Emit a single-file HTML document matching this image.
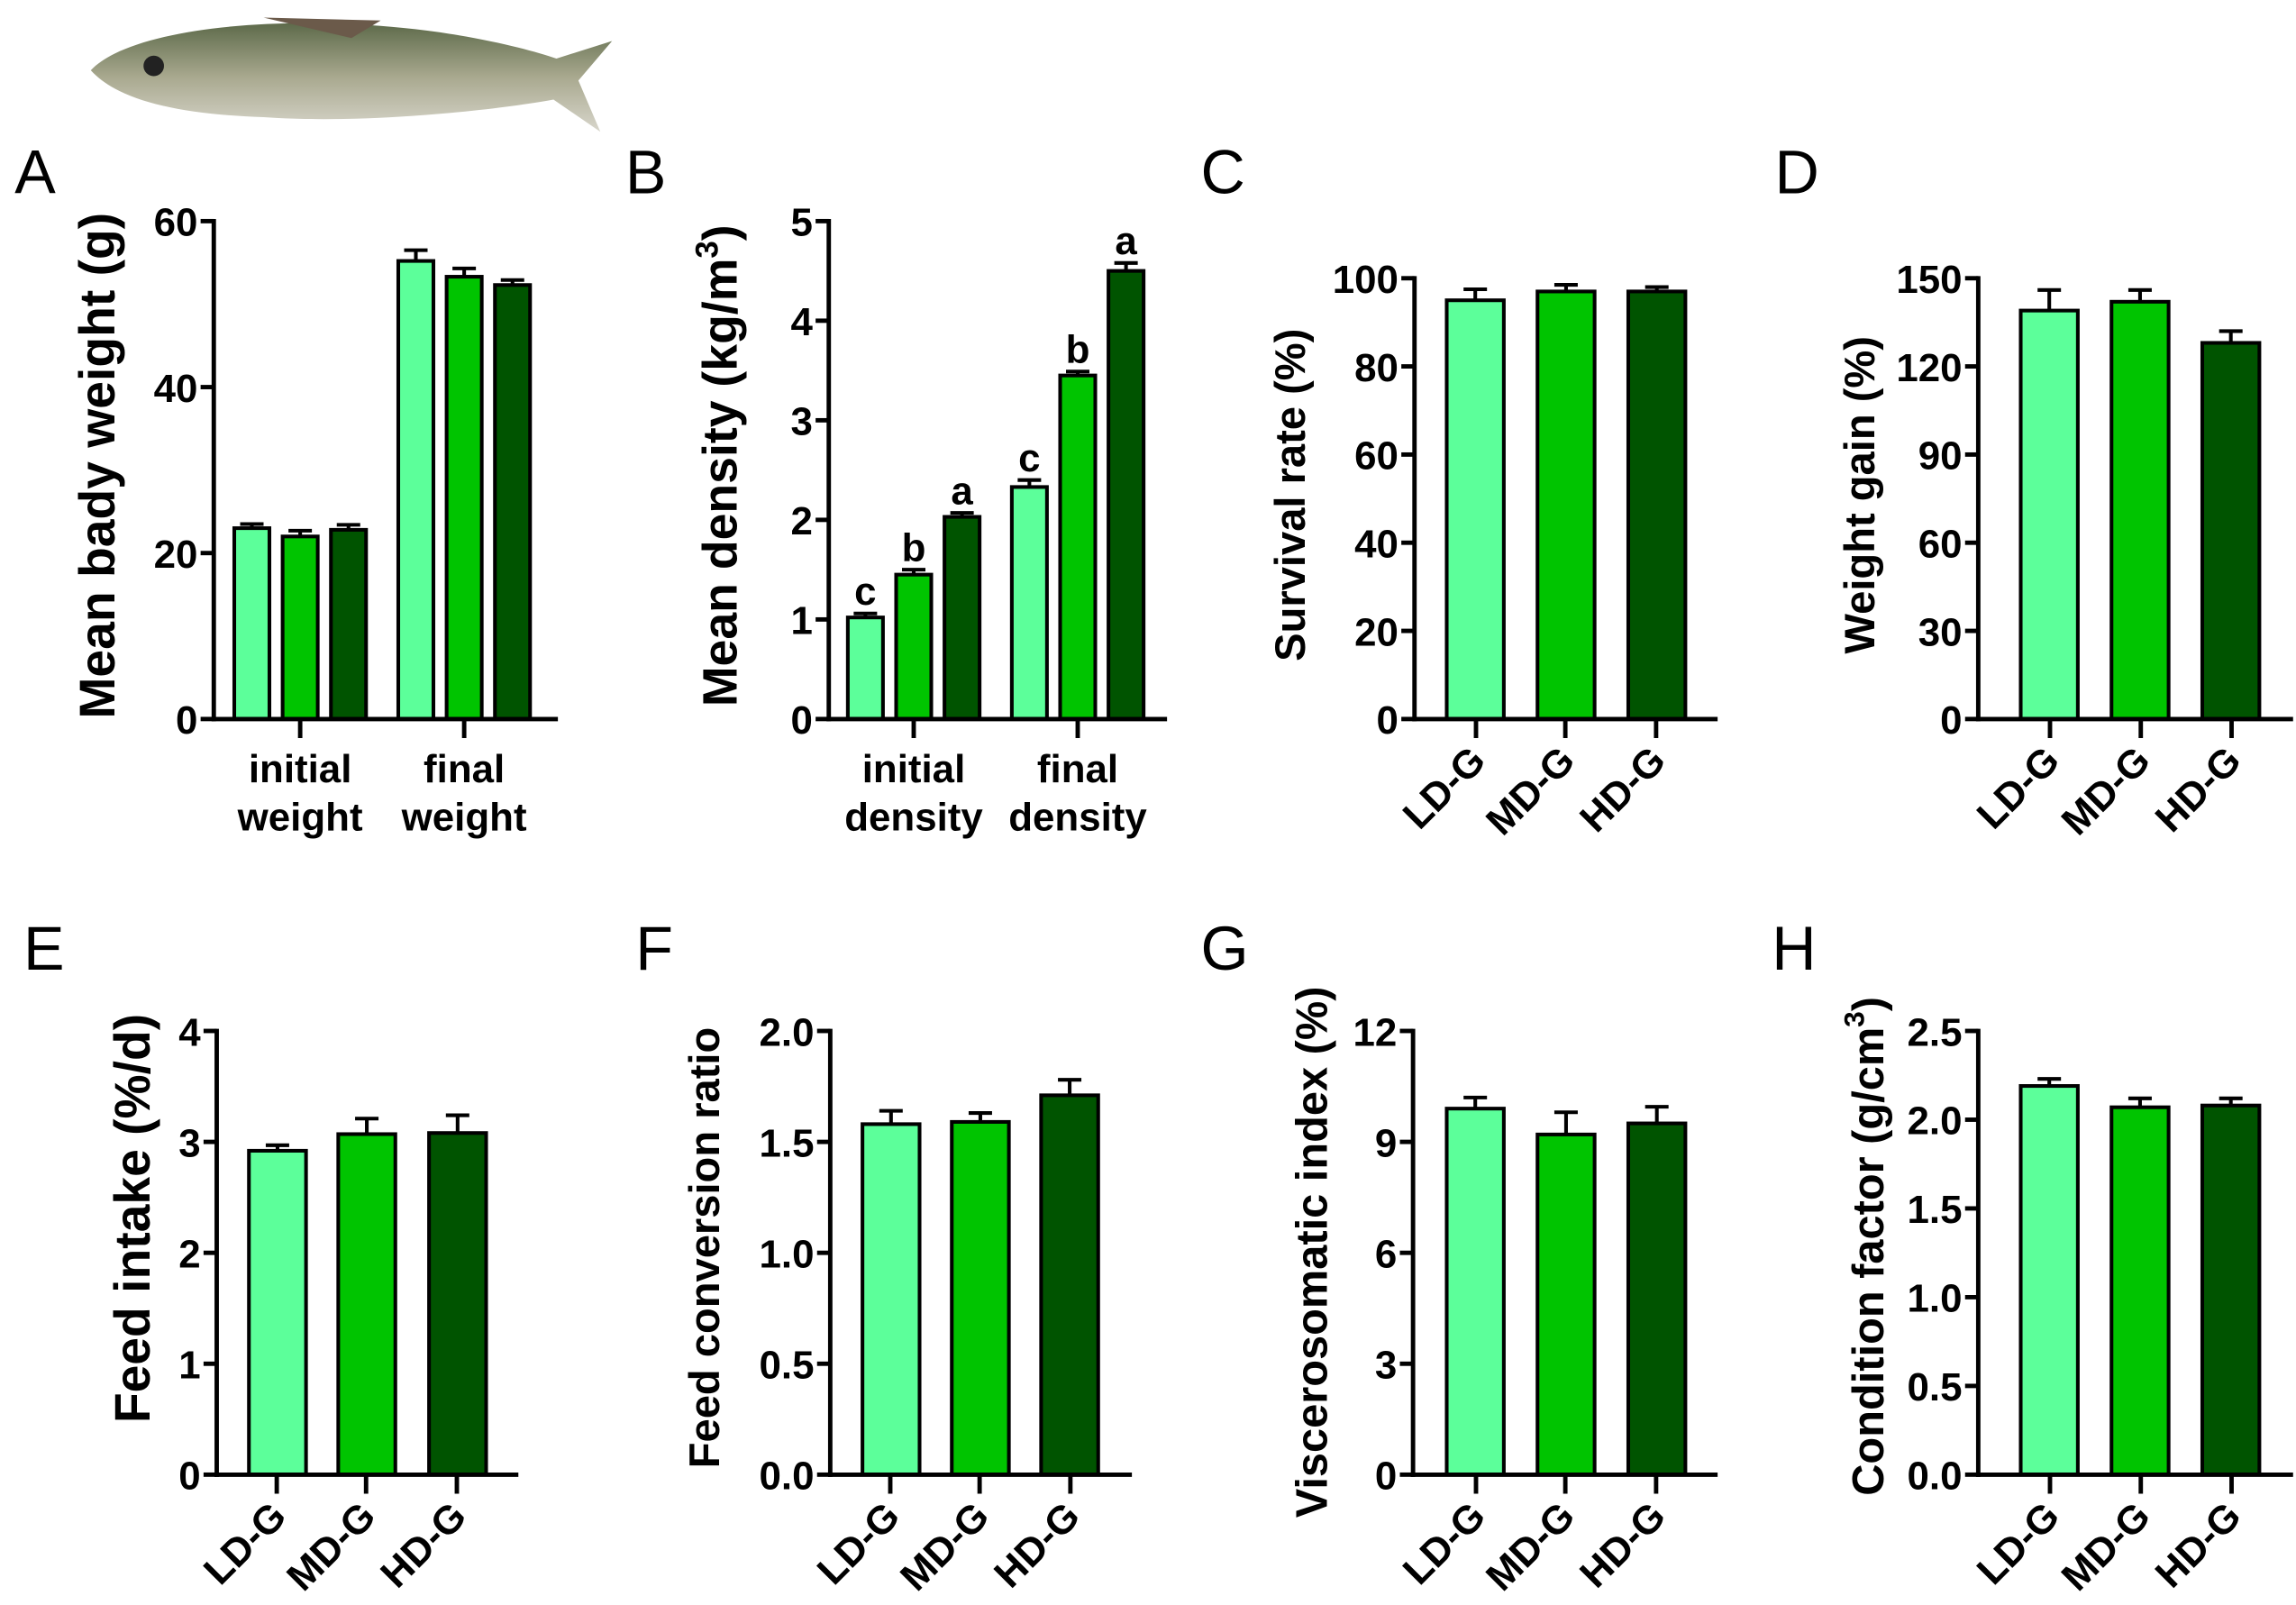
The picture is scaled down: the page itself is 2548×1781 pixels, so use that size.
<!DOCTYPE html>
<html><head><meta charset="utf-8"><style>
html,body{margin:0;padding:0;background:#fff;}
svg{display:block;}
text{font-family:"Liberation Sans",sans-serif;}
.tk{font-family:"Liberation Sans Narrow","Liberation Sans",sans-serif;font-weight:bold;font-size:27px;}
.ttl{font-weight:bold;}
.cat{font-family:"Liberation Sans Narrow","Liberation Sans",sans-serif;font-weight:bold;font-size:27px;}
.pl{font-family:"Liberation Sans Narrow","Liberation Sans",sans-serif;font-size:42px;}
</style></head><body>
<svg id="fig" width="2548" height="1781" viewBox="0 0 1568 1096" xmlns="http://www.w3.org/2000/svg">
<defs><linearGradient id="fishg" x1="0" y1="0" x2="0" y2="1"><stop offset="0" stop-color="#5d6a4a"/><stop offset="0.5" stop-color="#a9a98f"/><stop offset="1" stop-color="#d8d6cc"/></linearGradient></defs>
<g>
<path d="M62,48 C90,18 200,8 300,22 C340,28 365,35 380,40 L418,28 L395,55 L410,90 L378,68 C340,75 250,85 180,80 C120,78 80,68 62,48 Z" fill="url(#fishg)"/>
<circle cx="105" cy="45" r="7" fill="#222"/>
<path d="M180,12 L260,14 L240,26 Z" fill="#6b5a4a"/>
</g>
<g id="plots"></g>
</svg>
<script>
// Panel A
const catsA = ["initial weight","final weight"];
const valsA = [23.0,22.0,22.8,55.2,53.3,52.3];
const errsA = [0.5,0.7,0.6,1.3,1.0,0.6];
// Panel B
const catsB = ["initial density","final density"];
const valsB = [1.02,1.45,2.03,2.33,3.45,4.50];
const errsB = [0.04,0.05,0.04,0.07,0.04,0.08];
const lettersB = ["c","b","a","c","b","a"];
// groups C-H
const groups = ["LD-G","MD-G","HD-G"];
const valsC = [95,97,97];   const errsC = [2.5,1.5,1.0];
const valsD = [139,142,128]; const errsD = [7,4,4];
const valsE = [2.92,3.07,3.08]; const errsE = [0.05,0.14,0.16];
const valsF = [1.58,1.59,1.71]; const errsF = [0.06,0.04,0.07];
const valsG = [9.9,9.2,9.5]; const errsG = [0.3,0.6,0.45];
const valsH = [2.19,2.07,2.08]; const errsH = [0.04,0.05,0.04];
const ticksA = ["0","20","40","60"];
const ticksB = ["0","1","2","3","4","5"];
const ticksC = ["0","20","40","60","80","100"];
const ticksD = ["0","30","60","90","120","150"];
const ticksE = ["0","1","2","3","4"];
const ticksF = ["0.0","0.5","1.0","1.5","2.0"];
const ticksG = ["0","3","6","9","12"];
const ticksH = ["0.0","0.5","1.0","1.5","2.0","2.5"];
const colors = ["#5cff9a","#00c400","#005400"];

const NS="http://www.w3.org/2000/svg";
const root=document.getElementById('plots');
function mk(tag,attrs,parent){const e=document.createElementNS(NS,tag);for(const k in attrs)e.setAttribute(k,attrs[k]);(parent||root).appendChild(e);return e;}

function panel(o){
  const g=mk('g',{});
  
  
  const ymax=parseFloat(o.ticks[o.ticks.length-1]);
  const ys=v=>o.y0-(v/ymax)*(o.y0-o.yTop);
  o.vals.forEach((v,i)=>{
    const x=o.barX[i], w=o.barW, y=ys(v), cx=x+w/2, ye=ys(v+o.errs[i]);
    const ln=mk('line',{x1:cx,x2:cx,y1:y,y2:ye,stroke:'#000','stroke-width':2.5},g);
    
    
    const cap=mk('line',{x1:cx-8,x2:cx+8,y1:ye,y2:ye,stroke:'#000','stroke-width':2.5},g);
    
    
    const r=mk('rect',{x:x,y:y,width:w,height:o.y0-y,fill:colors[i%3],stroke:'#000','stroke-width':2.5},g);
    
    
    if(o.letters){
      const t=mk('text',{x:cx,y:ye-6,'text-anchor':'middle',class:'cat'},g);
      t.textContent=o.letters[i];
      
      
    }
  });
  const ya=mk('line',{x1:o.ax,x2:o.ax,y1:o.yTop-1.5,y2:o.y0+1.5,stroke:'#000','stroke-width':3},g);
  
  
  const xa=mk('line',{x1:o.ax-1.5,x2:o.xEnd,y1:o.y0,y2:o.y0,stroke:'#000','stroke-width':3},g);
  
  
  o.ticks.forEach(tk=>{
    const y=ys(parseFloat(tk));
    mk('line',{x1:o.ax-9,x2:o.ax,y1:y,y2:y,stroke:'#000','stroke-width':3},g);
    const t=mk('text',{x:o.ax-11,y:y+10,'text-anchor':'end',class:'tk'},g);
    t.textContent=tk;
    
    
  });
  o.xt.forEach((tx,i)=>{
    mk('line',{x1:tx,x2:tx,y1:o.y0,y2:o.y0+13,stroke:'#000','stroke-width':3},g);
    if(o.grouped){
      const parts=o.cats[i].split(' ');
      parts.forEach((p,j)=>{
        const t=mk('text',{x:tx,y:o.y0+43+j*33,'text-anchor':'middle',class:'cat'},g);
        t.textContent=p;
        
        
      });
    } else {
      const t=mk('text',{x:0,y:0,'text-anchor':'end',class:'cat',transform:`translate(${tx+8},${o.y0+30}) rotate(-45)`},g);
      t.textContent=o.cats[i];
      
      
    }
  });
  const tt=mk('text',{x:0,y:0,'text-anchor':'middle',class:'ttl','font-size':o.fs,transform:`translate(${o.tx},${o.ty}) rotate(-90)`},g);
  if(o.sup){tt.textContent=o.title;const s=mk('tspan',{dy:-13,'font-size':o.fs*0.65},tt);s.textContent=o.sup;const s2=mk('tspan',{dy:13},tt);s2.textContent=')';}
  else tt.textContent=o.title;
  
  
  const pl=mk('text',{x:o.lx,y:o.ly,class:'pl'},g);
  pl.textContent=o.id;
  
  
}
panel({id:'A',vals:valsA,errs:errsA,ticks:ticksA,cats:catsA,grouped:true,ax:146,yTop:151,y0:491,xEnd:381,fs:34,
  barX:[160,193,226,272,305,338],barW:24,xt:[205,317],tx:78,ty:318,title:'Mean bady weight (g)',lx:10,ly:132});
panel({id:'B',vals:valsB,errs:errsB,letters:lettersB,ticks:ticksB,cats:catsB,grouped:true,ax:566,yTop:151,y0:491,xEnd:797,fs:33,
  barX:[579,612,645,691,724,757],barW:24,xt:[624,736],tx:503,ty:318,title:'Mean density (kg/m',sup:'3',lx:427,ly:132});
panel({id:'C',vals:valsC,errs:errsC,ticks:ticksC,cats:groups,ax:966,yTop:190,y0:491,xEnd:1173,fs:29,
  barX:[988,1050,1112],barW:39,xt:[1008,1069,1131],tx:891,ty:338,title:'Survival rate (%)',lx:820,ly:132});
panel({id:'D',vals:valsD,errs:errsD,ticks:ticksD,cats:groups,ax:1351,yTop:190,y0:491,xEnd:1566,fs:29,
  barX:[1380,1442,1504],barW:39,xt:[1400,1462,1524],tx:1280,ty:338,title:'Weight gain (%)',lx:1212,ly:132});
panel({id:'E',vals:valsE,errs:errsE,ticks:ticksE,cats:groups,ax:148,yTop:704,y0:1007,xEnd:354,fs:34,
  barX:[170,231,293],barW:39,xt:[189,250,312],tx:102,ty:832,title:'Feed intake (%/d)',lx:16,ly:662});
panel({id:'F',vals:valsF,errs:errsF,ticks:ticksF,cats:groups,ax:567,yTop:704,y0:1007,xEnd:773,fs:29,
  barX:[589,650,711],barW:39,xt:[608,669,731],tx:491,ty:852,title:'Feed conversion ratio',lx:434,ly:662});
panel({id:'G',vals:valsG,errs:errsG,ticks:ticksG,cats:groups,ax:965,yTop:704,y0:1007,xEnd:1173,fs:30,
  barX:[988,1050,1112],barW:39,xt:[1008,1069,1131],tx:906,ty:855,title:'Viscerosomatic index (%)',lx:820,ly:662});
panel({id:'H',vals:valsH,errs:errsH,ticks:ticksH,cats:groups,ax:1351,yTop:704,y0:1007,xEnd:1566,fs:30,
  barX:[1380,1442,1504],barW:39,xt:[1400,1462,1524],tx:1286,ty:851,title:'Condition factor (g/cm',sup:'3',lx:1210,ly:662});
</script>
</body></html>
